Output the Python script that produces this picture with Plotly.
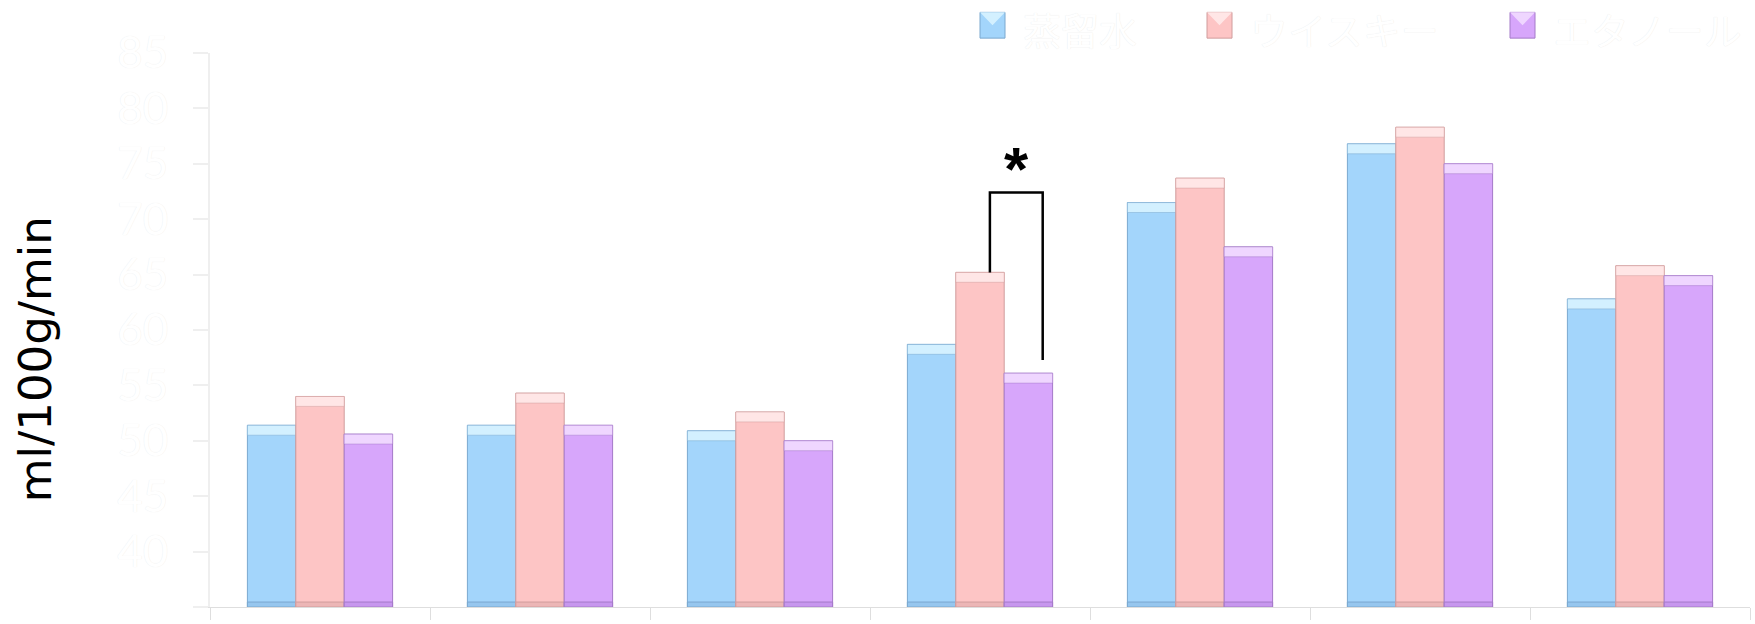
import plotly.graph_objects as go

# ---- data -------------------------------------------------------------
categories = [0, 1, 2, 3, 4, 5, 6]
series_names = ["蒸留水", "ウイスキー", "エタノール"]
water = [51.4, 51.4, 50.9, 58.7, 71.5, 76.8, 62.8]
whisky = [54.0, 54.3, 52.6, 65.2, 73.7, 78.3, 65.8]
ethanol = [50.6, 51.4, 50.0, 56.1, 67.5, 75.0, 64.9]
y_ticks = [35, 40, 45, 50, 55, 60, 65, 70, 75, 80, 85]
y_title = "ml/100g/min"

# significance bracket between whisky and ethanol in group index 3
sig_group = 3
sig_text = "*"

# ---- styling ----------------------------------------------------------
W, H = 1755, 624
ML, MR, MT, MB = 210, 5, 53, 12
fills = ["#a3d5fb", "#fdc5c5", "#d7a6fb"]
caps = ["#d3f0ff", "#ffe6e6", "#efd6ff"]
edges = ["#7aa8cf", "#d09c9c", "#a47ac8"]
bottoms = ["#96c6ee", "#ecb6b6", "#c797ee"]
bar_w = 0.22
offsets = [-0.33, -0.11, 0.11]
ymin, ymax = y_ticks[0], y_ticks[-1]
px_per_unit = (H - MT - MB) / (ymax - ymin)
cap_h = 10 / px_per_unit
foot_h = 5 / px_per_unit

all_series = [water, whisky, ethanol]

fig = go.Figure()
for i, vals in enumerate(all_series):
    # main body of each bar
    fig.add_trace(go.Bar(
        x=categories, y=[v - ymin for v in vals], base=ymin,
        width=bar_w, offset=offsets[i],
        marker=dict(color=fills[i], line=dict(color=edges[i], width=1)),
        name=series_names[i], showlegend=False, hoverinfo="skip",
    ))
    # slightly darker foot of each bar
    fig.add_trace(go.Bar(
        x=categories, y=[foot_h] * len(vals), base=ymin,
        width=bar_w, offset=offsets[i],
        marker=dict(color=bottoms[i], line=dict(color=edges[i], width=1)),
        showlegend=False, hoverinfo="skip",
    ))
    # light bevelled cap on top of each bar
    fig.add_trace(go.Bar(
        x=categories, y=[cap_h] * len(vals), base=[v - cap_h for v in vals],
        width=bar_w, offset=offsets[i],
        marker=dict(color=caps[i], line=dict(color=edges[i], width=0.5)),
        showlegend=False, hoverinfo="skip",
    ))

# significance bracket
x_left = sig_group + offsets[1] + bar_w / 2 + 0.045
x_right = sig_group + offsets[2] + bar_w / 2 + 0.065
y_top = whisky[sig_group] + 7.2
y_left = whisky[sig_group]
y_right = ethanol[sig_group] + 1.2
fig.add_trace(go.Scatter(
    x=[x_left, x_left, x_right, x_right],
    y=[y_left, y_top, y_top, y_right],
    mode="lines", line=dict(color="black", width=2.5),
    showlegend=False, hoverinfo="skip",
))
fig.add_annotation(
    x=(x_left + x_right) / 2, y=y_top + 2.2, text=f"<b>{sig_text}</b>",
    showarrow=False, yanchor="middle",
    font=dict(size=62, color="black", family="Liberation Sans"),
)

# legend drawn as bevelled swatches and labels along the top
def px_x(p):
    return (p - ML) / (W - ML - MR)

def px_y(p):
    return (H - MB - p) / (H - MT - MB)

legend_x = [980, 1207, 1510]
for i, name in enumerate(series_names):
    x0 = legend_x[i]
    fig.add_shape(type="rect", xref="paper", yref="paper",
                  x0=px_x(x0), x1=px_x(x0 + 25), y0=px_y(38), y1=px_y(12),
                  fillcolor=fills[i], line=dict(color=edges[i], width=1))
    fig.add_shape(type="path", xref="paper", yref="paper",
                  path=(f"M {px_x(x0)},{px_y(12)} L {px_x(x0 + 25)},{px_y(12)} "
                        f"L {px_x(x0 + 12.5)},{px_y(25)} Z"),
                  fillcolor=caps[i], line=dict(width=0))
    fig.add_annotation(
        xref="paper", yref="paper", x=px_x(x0 + 42), y=px_y(0),
        xanchor="left", yanchor="top", borderpad=0,
        text=name, showarrow=False,
        font=dict(size=38, color="white", family="Noto Sans CJK JP",
                  shadow="0px 0px 1px #e4e4e4"),
    )

# y-axis title
fig.add_annotation(
    xref="paper", yref="paper", x=px_x(35), y=px_y(362),
    text=y_title, textangle=-90, showarrow=False,
    xanchor="center", yanchor="middle",
    font=dict(size=45, color="black", family="DejaVu Sans"),
)

fig.update_layout(
    width=W, height=H,
    margin=dict(l=ML, r=MR, t=MT, b=MB),
    paper_bgcolor="white", plot_bgcolor="white",
    barmode="overlay", showlegend=False,
    xaxis=dict(
        range=[-0.5, 6.5], tickmode="array",
        tickvals=[c + 0.5 for c in categories[:-1]] + [-0.5, 6.5],
        showticklabels=False, ticks="outside", ticklen=12,
        tickcolor="#dedede", showline=True, linecolor="#dedede",
        linewidth=1, showgrid=False, zeroline=False,
    ),
    yaxis=dict(
        range=[ymin, ymax], tickmode="array", tickvals=y_ticks,
        ticks="outside", ticklen=15, tickcolor="#efefef", tickwidth=2,
        showline=True, linecolor="#efefef", linewidth=2,
        showgrid=False, zeroline=False, ticklabelstandoff=16,
        tickfont=dict(size=44, color="white", family="Lato",
                      shadow="0px 0px 1px #e8e8e8"),
    ),
)

fig.write_html("out.html")
